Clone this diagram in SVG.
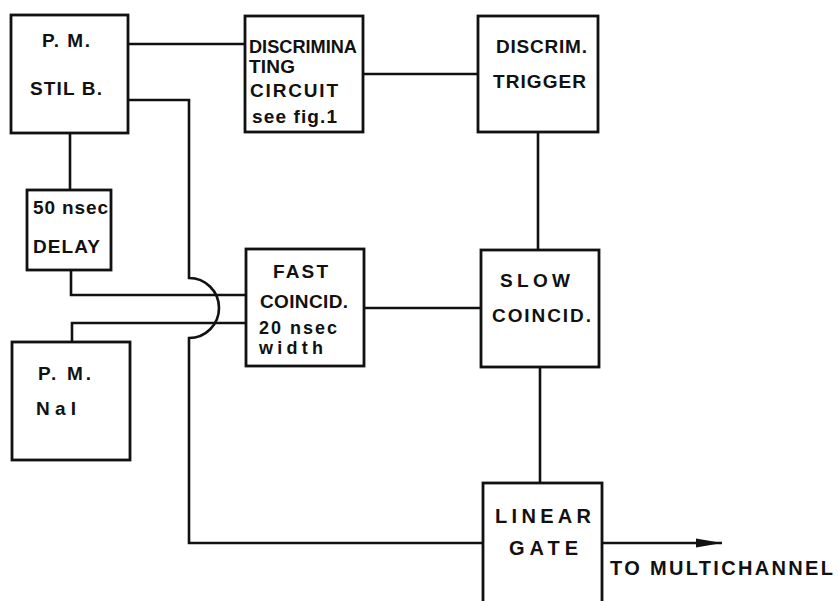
<svg xmlns="http://www.w3.org/2000/svg" width="838" height="601" viewBox="0 0 838 601">
<style>
.box{fill:#fff;stroke:#111;stroke-width:2.8}
.ln{fill:none;stroke:#111;stroke-width:2.6}
text{font-family:"Liberation Sans",Arial,sans-serif;font-size:19px;font-weight:bold;fill:#111}
.big{font-size:20px}
.sm{font-size:18px}
</style>
<defs>
<marker id="arr" viewBox="0 0 26 12" refX="26" refY="6" markerWidth="26" markerHeight="12" markerUnits="userSpaceOnUse" orient="auto">
<path d="M0,1.5 L26,6 L0,10.5 Z" fill="#111"/>
</marker>
</defs>
<rect width="838" height="601" fill="#fff"/>
<g id="connectors">
<path class="ln" d="M128,44 H245"/>
<path class="ln" d="M128,100 H189 V278 A30,30 0 0 1 189,338 V543 H483"/>
<path class="ln" d="M363,74 H478"/>
<path class="ln" d="M538,132 V250"/>
<path class="ln" d="M70,133 V190"/>
<path class="ln" d="M71,270 V295 H246"/>
<path class="ln" d="M72,342 V323 H246"/>
<path class="ln" d="M364,308 H481"/>
<path class="ln" d="M540,367 V483"/>
<path class="ln" d="M602,543 H722" marker-end="url(#arr)"/>
</g>
<g id="pm_stilb">
<rect class="box" x="11" y="15" width="117" height="118"/>
<text x="42" y="47" textLength="48" lengthAdjust="spacing">P. M.</text>
<text x="30" y="95" textLength="72" lengthAdjust="spacing">STIL B.</text>
</g>
<g id="discriminating">
<rect class="box" x="245" y="16" width="118" height="116"/>
<text x="249" y="53" textLength="108" lengthAdjust="spacingAndGlyphs">DISCRIMINA</text>
<text x="249" y="73" textLength="46" lengthAdjust="spacing">TING</text>
<text x="250" y="97" textLength="88" lengthAdjust="spacing">CIRCUIT</text>
<text x="252" y="123" textLength="85" lengthAdjust="spacing">see fig.1</text>
</g>
<g id="discrim_trigger">
<rect class="box" x="478" y="16" width="120" height="116"/>
<text x="496" y="53" textLength="91" lengthAdjust="spacing">DISCRIM.</text>
<text x="493" y="88" textLength="93" lengthAdjust="spacing">TRIGGER</text>
</g>
<g id="delay">
<rect class="box" x="27" y="190" width="84" height="80"/>
<text x="33" y="214" textLength="75" lengthAdjust="spacing">50 nsec</text>
<text x="33" y="253" textLength="67" lengthAdjust="spacing">DELAY</text>
</g>
<g id="pm_nai">
<rect class="box" x="12" y="342" width="118" height="118"/>
<text x="38" y="380" textLength="53" lengthAdjust="spacing">P. M.</text>
<text x="36" y="415" textLength="40" lengthAdjust="spacing">NaI</text>
</g>
<g id="fast_coincid">
<rect class="box" x="246" y="249" width="118" height="117"/>
<text x="273" y="278" textLength="55" lengthAdjust="spacing">FAST</text>
<text x="260" y="308" textLength="88" lengthAdjust="spacing">COINCID.</text>
<text class="sm" x="259" y="334" textLength="78" lengthAdjust="spacing">20 nsec</text>
<text class="sm" x="259" y="354" textLength="64" lengthAdjust="spacing">width</text>
</g>
<g id="slow_coincid">
<rect class="box" x="481" y="250" width="118" height="117"/>
<text x="500" y="287" textLength="70" lengthAdjust="spacing">SLOW</text>
<text x="492" y="322" textLength="99" lengthAdjust="spacing">COINCID.</text>
</g>
<g id="linear_gate">
<rect class="box" x="483" y="483" width="119" height="130"/>
<text class="big" x="495" y="523" textLength="96" lengthAdjust="spacing">LINEAR</text>
<text class="big" x="509" y="555" textLength="69" lengthAdjust="spacing">GATE</text>
</g>
<g id="output_label">
<text class="big" x="610" y="575" textLength="223" lengthAdjust="spacing">TO MULTICHANNEL</text>
</g>
</svg>
